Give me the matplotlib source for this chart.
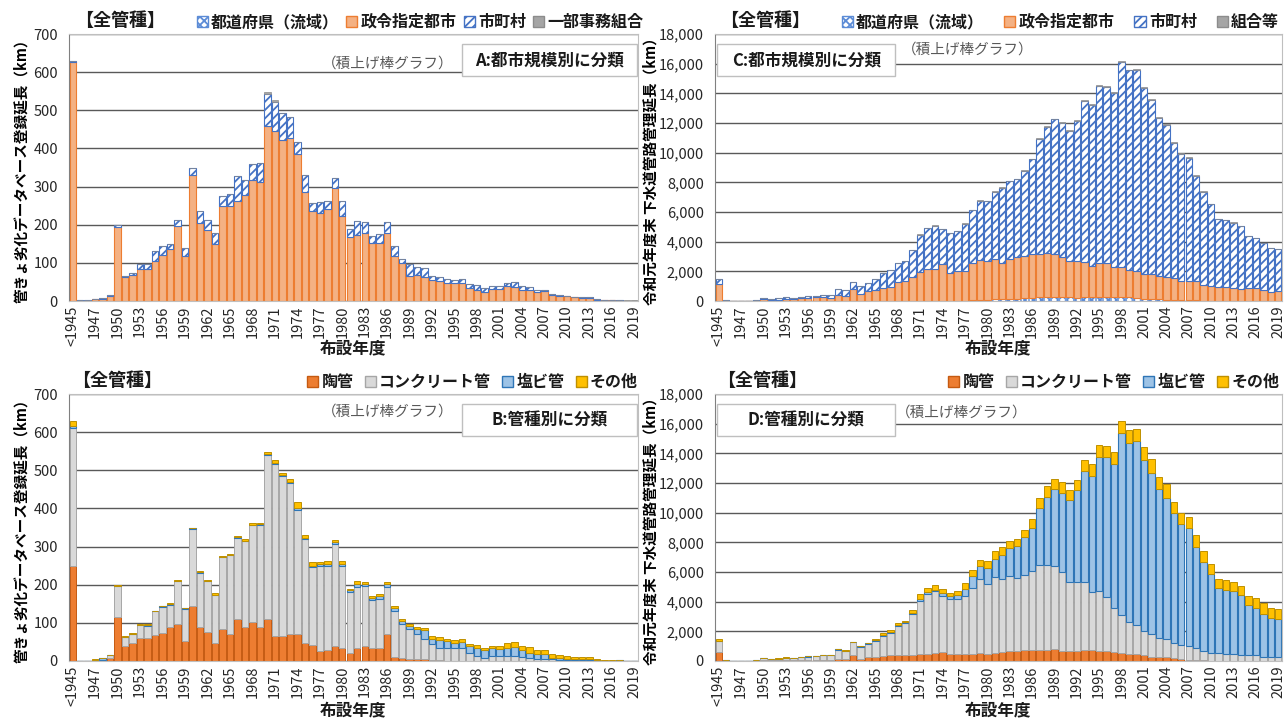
import matplotlib
matplotlib.use('Agg')
import matplotlib.pyplot as plt
from matplotlib.patches import Patch, Rectangle
import numpy as np

plt.rcParams['font.family'] = ['Noto Sans CJK JP', 'DejaVu Sans']
plt.rcParams['hatch.linewidth'] = 1.3

# ---------------- categories ----------------
years = ['<1945'] + [str(y) for y in range(1945, 2020)]

# ---------------- A: 都市規模別 (管きょ劣化DB, km) ----------------
A_pref = [1, 0, 0, 0, 0, 0, 0, 0, 0, 0,
          0, 0, 0, 0, 0, 0, 0, 0, 0, 0,
          0, 0, 0, 0, 0, 0, 0, 0, 0, 0,
          0, 0, 0, 0, 0, 0, 0, 0, 0, 0,
          0, 0, 0, 0, 0, 0, 0, 0, 0, 0,
          0, 0, 0, 0, 0, 0, 0, 0, 0, 0,
          0, 0, 0, 0, 0, 0, 0, 0, 0, 0,
          0, 0, 0, 0, 0, 0]
A_seirei = [625, 1, 1, 4, 6, 14, 195, 62, 68, 85,
            85, 105, 120, 137, 197, 118, 330, 205, 185, 150,
            250, 250, 262, 278, 318, 312, 460, 445, 422, 427,
            385, 285, 237, 230, 240, 297, 222, 168, 172, 177,
            152, 153, 178, 118, 100, 66, 68, 62, 55, 52,
            46, 46, 48, 34, 30, 23, 32, 32, 40, 38,
            28, 28, 24, 27, 16, 14, 12, 10, 9, 8,
            3, 2, 2, 1, 1, 0]
A_shichoson = [4, 1, 1, 1, 2, 3, 3, 3, 5, 11,
               11, 26, 23, 13, 15, 21, 20, 30, 28, 27,
               25, 30, 65, 40, 42, 50, 82, 78, 70, 55,
               33, 45, 21, 30, 22, 25, 40, 22, 38, 31,
               18, 22, 30, 25, 11, 31, 20, 25, 10, 10,
               11, 9, 9, 10, 11, 12, 8, 8, 7, 12,
               12, 8, 6, 3, 2, 2, 2, 1, 2, 3,
               1, 0, 0, 1, 0, 1]
A_kumiai = [0, 0, 0, 0, 0, 0, 0, 0, 0, 0,
            0, 0, 0, 0, 0, 0, 0, 0, 0, 0,
            0, 0, 0, 0, 0, 0, 6, 4, 0, 0,
            0, 0, 0, 0, 0, 0, 0, 0, 0, 0,
            0, 0, 0, 0, 0, 0, 0, 0, 0, 0,
            0, 0, 0, 0, 0, 0, 0, 0, 0, 0,
            0, 0, 0, 0, 0, 0, 0, 0, 0, 0,
            0, 0, 0, 0, 1, 1]

# ---------------- B: 管種別 (管きょ劣化DB, km) ----------------
B_toukan = [250, 0, 0, 1, 1, 8, 115, 40, 48, 60,
            60, 67, 73, 90, 97, 52, 145, 90, 75, 47,
            83, 72, 110, 88, 102, 88, 110, 65, 65, 70,
            72, 48, 42, 26, 28, 40, 35, 22, 35, 40,
            35, 35, 72, 10, 8, 5, 5, 4, 2, 2,
            1, 1, 1, 1, 1, 1, 0, 0, 0, 0,
            0, 0, 0, 0, 0, 0, 0, 0, 0, 0,
            0, 0, 0, 0, 0, 0]
B_concrete = [360, 1, 1, 2, 1, 7, 81, 23, 22, 34,
              33, 63, 69, 58, 112, 85, 202, 142, 135, 126,
              189, 205, 213, 226, 254, 269, 430, 452, 420, 397,
              325, 272, 205, 224, 222, 267, 215, 158, 160, 157,
              125, 128, 123, 120, 90, 80, 67, 54, 43, 33,
              34, 34, 34, 19, 11, 7, 14, 12, 12, 12,
              10, 8, 6, 6, 4, 3, 2, 2, 2, 2,
              1, 1, 1, 1, 0, 0]
B_enbi = [5, 0, 0, 0, 6, 1, 1, 1, 1, 1,
          1, 1, 1, 1, 1, 1, 1, 2, 1, 1,
          1, 1, 1, 1, 1, 1, 3, 3, 3, 3,
          5, 3, 3, 3, 4, 6, 4, 5, 8, 6,
          5, 7, 8, 10, 7, 8, 11, 24, 13, 20,
          18, 13, 15, 20, 23, 22, 21, 20, 21, 26,
          20, 14, 12, 12, 4, 4, 4, 3, 3, 3,
          1, 0, 0, 1, 0, 0]
B_sonota = [15, 0, 0, 1, 1, 1, 1, 2, 3, 2,
            3, 1, 1, 2, 3, 2, 2, 1, 2, 3,
            3, 3, 4, 4, 4, 5, 5, 7, 4, 8,
            16, 7, 10, 7, 8, 5, 7, 5, 7, 5,
            5, 5, 5, 3, 6, 4, 5, 5, 7, 7,
            5, 7, 7, 5, 6, 5, 5, 8, 14, 12,
            10, 14, 12, 12, 10, 9, 8, 6, 6, 6,
            2, 1, 1, 0, 1, 1]

# ---------------- C: 都市規模別 (管路管理延長, km) ----------------
C_pref = [0, 0, 0, 0, 0, 0, 0, 0, 0, 0,
          0, 0, 0, 0, 0, 0, 0, 0, 0, 0,
          0, 0, 0, 0, 0, 0, 0, 0, 0, 0,
          0, 0, 0, 30, 80, 100, 100, 120, 120, 150,
          150, 180, 200, 250, 280, 280, 260, 250, 230, 300,
          280, 280, 250, 250, 280, 250, 200, 150, 150, 120,
          100, 80, 60, 60, 40, 30, 20, 20, 20, 20,
          20, 20, 20, 20, 20, 20]
C_seirei = [1140, 10, 5, 5, 10, 20, 150, 80, 100, 150,
            150, 180, 200, 250, 270, 220, 410, 350, 820, 450,
            680, 750, 860, 950, 1270, 1340, 1590, 1950, 2180, 2180,
            2480, 1910, 2020, 2020, 2490, 2650, 2630, 2720, 2430, 2670,
            2830, 2870, 2960, 2910, 2970, 2860, 2740, 2480, 2500, 2310,
            2110, 2310, 2340, 2070, 2020, 1840, 1820, 1670, 1670, 1580,
            1490, 1470, 1300, 1260, 1280, 1060, 960, 910, 910, 840,
            800, 840, 840, 710, 590, 680]
C_shichoson = [340, 40, 25, 15, 20, 40, 80, 60, 70, 90,
               70, 110, 130, 120, 160, 200, 420, 370, 480, 580,
               550, 730, 1040, 1130, 1280, 1390, 1840, 2520, 2740, 2890,
               2370, 2660, 2690, 3170, 3540, 4020, 3980, 4530, 5100, 5260,
               5240, 5720, 6410, 7780, 8490, 9100, 8990, 8710, 9410, 10880,
               10800, 11900, 11850, 11720, 13840, 13450, 13570, 12520, 11720, 10640,
               10250, 9090, 8580, 8320, 7120, 6290, 5550, 4570, 4500, 4420,
               4230, 3500, 3360, 3170, 2960, 2790]
C_kumiai = [0, 0, 0, 0, 0, 0, 0, 0, 0, 0,
            0, 0, 0, 0, 0, 0, 0, 0, 0, 0,
            0, 0, 0, 0, 0, 0, 30, 30, 30, 30,
            30, 30, 30, 30, 30, 30, 30, 30, 30, 30,
            30, 30, 30, 60, 60, 60, 60, 60, 60, 60,
            60, 60, 60, 60, 60, 60, 60, 60, 60, 60,
            60, 60, 60, 60, 60, 20, 20, 20, 20, 20,
            20, 20, 20, 20, 20, 20]

# ---------------- D: 管種別 (管路管理延長, km) ----------------
D_toukan = [600, 5, 5, 5, 5, 10, 60, 40, 50, 60,
            60, 70, 80, 90, 100, 80, 150, 150, 380, 150,
            250, 280, 350, 420, 420, 400, 420, 500, 500, 520,
            620, 480, 500, 450, 500, 520, 500, 550, 580, 650,
            700, 750, 750, 720, 750, 780, 700, 680, 700, 750,
            720, 700, 680, 600, 520, 480, 500, 380, 300, 280,
            300, 200, 150, 100, 80, 50, 30, 30, 30, 30,
            30, 30, 30, 30, 30, 30]
D_concrete = [750, 25, 15, 10, 15, 30, 140, 80, 100, 150,
              140, 190, 220, 250, 280, 300, 600, 500, 870, 800,
              900, 1070, 1350, 1480, 1930, 2150, 2730, 3550, 4000, 4180,
              3780, 3670, 3700, 3900, 4450, 4980, 4700, 5100, 4920, 5050,
              4900, 5050, 5300, 5780, 5750, 5620, 5300, 4620, 4600, 4550,
              3930, 4000, 3620, 2950, 2580, 2120, 1950, 1670, 1550, 1270,
              1150, 1000, 900, 900, 770, 650, 520, 490, 470, 420,
              390, 390, 370, 270, 220, 220]
D_enbi = [30, 5, 5, 0, 5, 5, 10, 10, 10, 10,
          10, 20, 10, 10, 10, 10, 50, 50, 30, 30,
          30, 50, 50, 50, 70, 50, 100, 100, 150, 100,
          200, 200, 250, 500, 750, 900, 1100, 1250, 1650, 1900,
          2150, 2550, 2950, 3800, 4550, 5200, 5350, 5550, 6200, 7500,
          7850, 9050, 9450, 9700, 12250, 12100, 12350, 11500, 10850, 10050,
          9550, 8750, 8200, 7950, 6850, 6000, 5300, 4430, 4300, 4250,
          4030, 3380, 3200, 2900, 2650, 2550]
D_sonota = [100, 10, 5, 5, 5, 10, 20, 10, 10, 20,
            10, 20, 20, 20, 40, 30, 30, 20, 20, 50,
            50, 80, 150, 130, 130, 130, 210, 350, 300, 300,
            280, 250, 290, 400, 440, 400, 440, 500, 530, 510,
            500, 450, 600, 700, 750, 700, 700, 650, 700, 750,
            750, 800, 750, 850, 850, 900, 850, 850, 900, 800,
            900, 750, 750, 750, 800, 700, 700, 570, 650, 600,
            620, 580, 640, 720, 690, 710]

# ---------------- labels ----------------
ylabel_db = '管きょ劣化データベース登録延長（km）'
ylabel_mg = '令和元年度末 下水道管路管理延長（km）'
xlabel = '布設年度'
head = '【全管種】'
sub = '（積上げ棒グラフ）'

# ---------------- figure ----------------
W, H = 1286, 720
fig = plt.figure(figsize=(W / 100, H / 100), dpi=100)
fig.patch.set_facecolor('white')


def px_axes(l, t, r, b):
    return fig.add_axes([l / W, 1 - b / H, (r - l) / W, (b - t) / H])


axA = px_axes(69, 34, 638, 301)
axC = px_axes(715, 34, 1282, 301)
axB = px_axes(69, 394, 638, 661)
axD = px_axes(715, 394, 1282, 661)

x = np.arange(len(years))
BW = 0.86

# style definitions
sty_pref = dict(facecolor='white', edgecolor='#5B8BD6', hatch='xxxx', lw=0.5)
sty_seirei = dict(facecolor='#F4B183', edgecolor='#ED7D31', lw=0.8)
sty_shi = dict(facecolor='white', edgecolor='#4472C4', hatch='////', lw=0.8)
sty_kumi = dict(facecolor='#A5A5A5', edgecolor='#8C8C8C', lw=0.5)
sty_tou = dict(facecolor='#ED7D31', edgecolor='#C55A11', lw=0.7)
sty_con = dict(facecolor='#D9D9D9', edgecolor='#A6A6A6', lw=0.7)
sty_enb = dict(facecolor='#9DC3E6', edgecolor='#2E75B6', lw=0.8)
sty_son = dict(facecolor='#FFC000', edgecolor='#BF9000', lw=0.7)


def stack(ax, series):
    bottom = np.zeros(len(years))
    for vals, st in series:
        v = np.asarray(vals, dtype=float)
        ax.bar(x, v, BW, bottom=bottom, zorder=2, **st)
        bottom = bottom + v


stack(axA, [(A_pref, sty_pref), (A_seirei, sty_seirei), (A_shichoson, sty_shi), (A_kumiai, sty_kumi)])
stack(axC, [(C_pref, sty_pref), (C_seirei, sty_seirei), (C_shichoson, sty_shi), (C_kumiai, sty_kumi)])
stack(axB, [(B_toukan, sty_tou), (B_concrete, sty_con), (B_enbi, sty_enb), (B_sonota, sty_son)])
stack(axD, [(D_toukan, sty_tou), (D_concrete, sty_con), (D_enbi, sty_enb), (D_sonota, sty_son)])


def style(ax, ymax, step, comma):
    ax.set_xlim(-0.5, len(years) - 0.5)
    ax.set_ylim(0, ymax)
    ticks = list(range(0, ymax + 1, step))
    ax.set_yticks(ticks)
    ax.set_yticklabels([f'{t:,}' if comma else str(t) for t in ticks])
    ax.set_xticks(x[::3])
    ax.set_xticklabels(years[::3], rotation=90)
    ax.tick_params(axis='both', length=0, labelsize=10.5, colors='#262626')
    ax.tick_params(axis='y', pad=8)
    ax.tick_params(axis='x', pad=3)
    ax.yaxis.grid(True, color='#595959', lw=1.0)
    ax.set_axisbelow(True)
    for k, s in ax.spines.items():
        s.set_color('#BFBFBF')
        s.set_linewidth(0.8)
    ax.spines['left'].set_color('#808080')


style(axA, 700, 100, False)
style(axB, 700, 100, False)
style(axC, 18000, 2000, True)
style(axD, 18000, 2000, True)

axA.set_ylabel(ylabel_db, fontsize=10.5, fontweight='bold', labelpad=3)
axB.set_ylabel(ylabel_db, fontsize=10.5, fontweight='bold', labelpad=3)
axC.set_ylabel(ylabel_mg, fontsize=10.5, fontweight='bold', labelpad=0)
axD.set_ylabel(ylabel_mg, fontsize=10.5, fontweight='bold', labelpad=0)

# x-axis titles placed at reference pixel positions
for cx, cy in [(353, 348), (998, 348), (353, 710), (998, 710)]:
    fig.text(cx / W, 1 - cy / H, xlabel, ha='center', va='center', fontsize=12,
             fontweight='bold', color='#1a1a1a')

# headers
for ax, hx in [(axA, 0.09), (axC, 0.088), (axB, 0.085), (axD, 0.083)]:
    ax.text(hx, 1.052, head, transform=ax.transAxes, fontsize=13, fontweight='bold',
            ha='center', va='center', color='#1a1a1a')

# legends
def nolw(d):
    return {k: v for k, v in d.items() if k != 'lw'}


leg_city = [Patch(label='都道府県（流域）', **nolw(sty_pref)),
            Patch(label='政令指定都市', **nolw(sty_seirei)),
            Patch(label='市町村', **nolw(sty_shi))]
leg_pipe = [Patch(label='陶管', **nolw(sty_tou)),
            Patch(label='コンクリート管', **nolw(sty_con)),
            Patch(label='塩ビ管', **nolw(sty_enb)),
            Patch(label='その他', **nolw(sty_son))]
kA = Patch(label='一部事務組合', facecolor='#A5A5A5', edgecolor='#8C8C8C')
kC = Patch(label='組合等', facecolor='#A5A5A5', edgecolor='#8C8C8C')


def legend(ax, handles, colsp, right):
    lg = ax.legend(handles=handles, loc='center right', bbox_to_anchor=(right, 1.045),
                   ncol=len(handles), frameon=False, handlelength=0.7, handleheight=0.7,
                   handletextpad=0.2, columnspacing=colsp, borderaxespad=0, borderpad=0,
                   prop={'size': 11.5, 'weight': 'bold'})
    for t in lg.get_texts():
        t.set_color('#1a1a1a')


legend(axA, leg_city + [kA], 0.45, 1.01)
legend(axC, leg_city + [kC], 1.25, 0.995)
legend(axB, leg_pipe, 0.7, 1.0)
legend(axD, leg_pipe, 0.7, 0.995)

# boxes and sub-titles
boxes = [(axA, 0.691, 0.998, 'A:都市規模別に分類', 0.560, 0.888),
         (axC, 0.004, 0.318, 'C:都市規模別に分類', 0.445, 0.940),
         (axB, 0.691, 0.998, 'B:管種別に分類', 0.560, 0.933),
         (axD, 0.004, 0.318, 'D:管種別に分類', 0.435, 0.930)]
for ax, x0, x1, txt, sx, sy in boxes:
    y0, y1 = 0.842, 0.963
    ax.add_patch(Rectangle((x0, y0), x1 - x0, y1 - y0, transform=ax.transAxes,
                           facecolor='white', edgecolor='#BFBFBF', lw=1.0, zorder=5))
    ax.text((x0 + x1) / 2, (y0 + y1) / 2, txt, transform=ax.transAxes, ha='center',
            va='center', fontsize=12, fontweight='bold', color='#1a1a1a', zorder=6)
    ax.text(sx, sy, sub, transform=ax.transAxes, ha='center', va='center',
            fontsize=10.5, color='#595959', zorder=6)

fig.savefig('out.png', dpi=100, facecolor='white')
